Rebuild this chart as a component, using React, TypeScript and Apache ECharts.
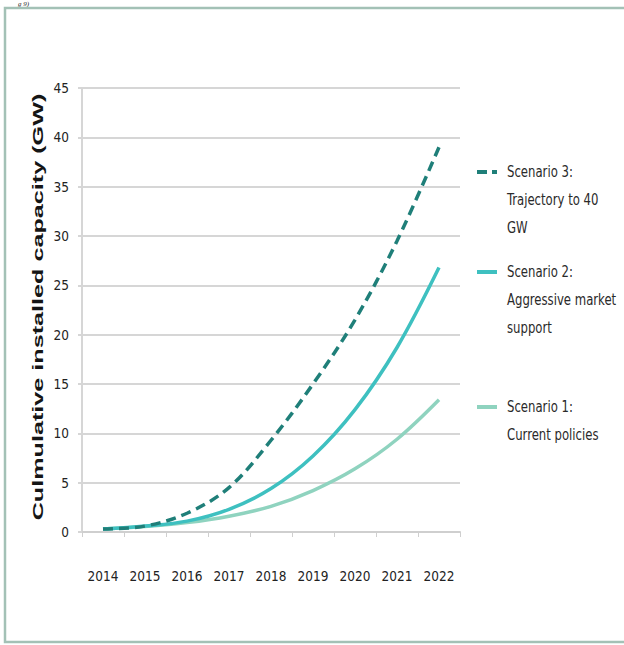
import React, { useEffect, useRef } from "react";
import * as echarts from "echarts";

const years = ["2014", "2015", "2016", "2017", "2018", "2019", "2020", "2021", "2022"];
const scenario1 = [0.3, 0.55, 0.95, 1.6, 2.6, 4.2, 6.4, 9.4, 13.4];
const scenario2 = [0.3, 0.6, 1.1, 2.3, 4.4, 7.7, 12.4, 18.7, 26.8];
const scenario3 = [0.3, 0.6, 1.9, 4.5, 9.3, 15.0, 21.5, 29.5, 39.0];
const yMin = 0;
const yMax = 45;
const yStep = 5;
const yTitle = "Culmulative installed capacity (GW)";
const legendItems = [
  { lines: ["Scenario 3:", "Trajectory to 40", "GW"], color: "#1f7f79", dashed: true },
  { lines: ["Scenario 2:", "Aggressive market", "support"], color: "#3ec0c0", dashed: false },
  { lines: ["Scenario 1:", "Current policies"], color: "#8fd3bf", dashed: false },
];

const FONT = "'DejaVu Sans Condensed', 'Liberation Sans', Arial, sans-serif";

export default function App() {
  const ref = useRef<HTMLDivElement>(null);
  useEffect(() => {
    if (!ref.current) return;
    const chart = echarts.init(ref.current, null, { renderer: "svg" });
    const legendStarts = [172, 272, 407];
    const legendGraphics: any[] = [];
    legendItems.forEach((item, i) => {
      const y0 = legendStarts[i];
      legendGraphics.push({
        type: "line",
        shape: { x1: 477, y1: y0, x2: 497, y2: y0 },
        style: {
          stroke: item.color,
          lineWidth: 4,
          lineDash: item.dashed ? [10, 5] : null,
        },
      });
      item.lines.forEach((t, j) => {
        legendGraphics.push({
          type: "text",
          x: 507,
          y: y0 + j * 28,
          scaleY: 1.2,
          style: {
            text: t,
            fill: "#2a2a2a",
            font: `13px ${FONT}`,
            align: "left",
            verticalAlign: "middle",
          },
        });
      });
    });
    const mkSeries = (name: string, data: number[], color: string, dashed: boolean) => ({
      name,
      type: "line",
      data,
      smooth: 0.35,
      symbol: "none",
      lineStyle: { color, width: 3.5, type: dashed ? [10, 6] : "solid" },
      z: dashed ? 4 : 3,
    });
    chart.setOption({
      animation: false,
      backgroundColor: "#ffffff",
      grid: { left: 82, right: 164, top: 88, bottom: 113 },
      xAxis: {
        type: "category",
        data: years,
        boundaryGap: true,
        axisLine: { show: true, lineStyle: { color: "#cfcfcf", width: 2 } },
        axisTick: { show: true, length: 5, interval: 0, lineStyle: { color: "#cfcfcf" } },
        axisLabel: { color: "#222", fontSize: 13.5, fontFamily: FONT, margin: 37, interval: 0 },
      },
      yAxis: {
        type: "value",
        min: yMin,
        max: yMax,
        interval: yStep,
        axisLine: { show: true, lineStyle: { color: "#d6d6d6", width: 2 } },
        axisTick: { show: true, length: 4, lineStyle: { color: "#d6d6d6", width: 2 } },
        splitLine: { show: true, lineStyle: { color: "#d6d6d6", width: 2 } },
        axisLabel: { color: "#222", fontSize: 13.5, fontFamily: FONT, margin: 13 },
      },
      series: [
        mkSeries("Scenario 1", scenario1, "#8fd3bf", false),
        mkSeries("Scenario 2", scenario2, "#3ec0c0", false),
        mkSeries("Scenario 3", scenario3, "#1f7f79", true),
      ],
      graphic: [
        {
          type: "rect",
          shape: { x: 5, y: 8, width: 640, height: 634 },
          style: { fill: "none", stroke: "#a3c1b6", lineWidth: 2.5 },
          z: 10,
        },
        {
          type: "text",
          x: 18,
          y: 0,
          style: {
            text: "g 9)",
            fill: "#222",
            font: "italic 7px 'Liberation Serif', serif",
            verticalAlign: "top",
          },
        },
        {
          type: "text",
          x: 38,
          y: 307,
          rotation: Math.PI / 2,
          scaleX: 1.68,
          style: {
            text: yTitle,
            fill: "#151515",
            font: "bold 15px 'Liberation Sans', Arial, sans-serif",
            align: "center",
            verticalAlign: "middle",
          },
        },
        ...legendGraphics,
      ],
    });
    return () => chart.dispose();
  }, []);
  return (
    <div
      ref={ref}
      style={{ position: "fixed", left: 0, top: 0, width: 624, height: 645 }}
    />
  );
}
